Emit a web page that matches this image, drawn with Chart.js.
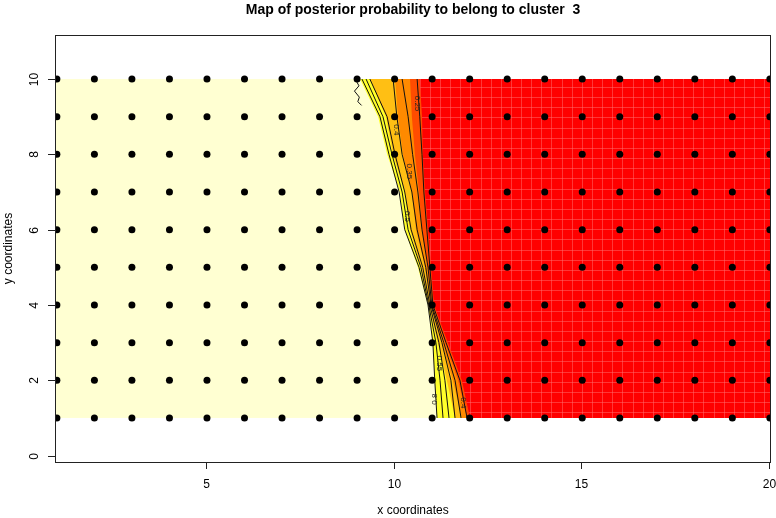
<!DOCTYPE html>
<html>
<head>
<meta charset="utf-8">
<script src="https://cdn.jsdelivr.net/npm/chart.js@4/dist/chart.umd.min.js"></script>
<style>
  body { margin: 0; background: #fff; }
  #wrap { width: 776px; height: 518px; }
</style>
</head>
<body>
<div id="wrap"><canvas id="map" width="776" height="518"></canvas></div>
<script>
// sampling grid (points drawn as dots)
const gridX = [1, 2, 3, 4, 5, 6, 7, 8, 9, 10, 11, 12, 13, 14, 15, 16, 17, 18, 19, 20];
const gridY = [1, 2, 3, 4, 5, 6, 7, 8, 9, 10];

// rows where the colour / contour boundaries were read (top to bottom)
const rowY = [10, 9, 8, 7, 6, 5, 4, 3, 2, 1];

// x position of each colour band edge on every row
const edgePale = [9.08, 9.56, 9.80, 10.14, 10.27, 10.62, 10.89, 11.02, 11.07, 11.13];
const edgeYellow = [9.34, 9.77, 9.96, 10.27, 10.41, 10.70, 10.91, 11.15, 11.39, 11.61];
const edgeOrange = [10.01, 10.09, 10.22, 10.46, 10.57, 10.81, 10.97, 11.26, 11.55, 11.79];
const edgeDark = [10.41, 10.46, 10.54, 10.65, 10.73, 10.89, 11.02, 11.34, 11.69, 11.93];
const edgeRed = [10.67, 10.73, 10.75, 10.81, 10.89, 10.97, 11.05, 11.42, 11.79, 12.01];

// contour lines, x on every row
const contour1 = [9.13, 9.61, 9.85, 10.12, 10.27, 10.65, 10.89, 11.02, 11.07, 11.13];
const contour2 = [9.24, 9.69, 9.93, 10.20, 10.36, 10.70, 10.91, 11.10, 11.21, 11.29];
const contour3 = [9.34, 9.80, 10.01, 10.27, 10.44, 10.75, 10.94, 11.18, 11.34, 11.45];
const contour4 = [9.96, 10.06, 10.20, 10.46, 10.60, 10.83, 10.97, 11.26, 11.50, 11.61];
const contour5 = [10.20, 10.36, 10.48, 10.62, 10.73, 10.89, 10.99, 11.31, 11.61, 11.77];
const contour6 = [10.60, 10.67, 10.73, 10.78, 10.86, 10.94, 11.02, 11.37, 11.74, 11.93];
// small wiggly contour in the top-left corner of the boundary
const wiggleX = [8.95, 9.05, 8.93, 9.06, 9.02, 9.12];
const wiggleY = [10, 9.82, 9.68, 9.52, 9.4, 9.3];

const contourLabels = [
  { text: "0.25", x: 10.60, y: 9.35, rot: 1 },
  { text: "0.4", x: 10.03, y: 8.65, rot: 1 },
  { text: "0.35", x: 10.38, y: 7.55, rot: 1 },
  { text: "0.5", x: 10.33, y: 6.35, rot: 1 },
  { text: "0.55", x: 11.18, y: 2.45, rot: 1 },
  { text: "0.8", x: 11.08, y: 1.5, rot: -1 },
  { text: "0.4", x: 11.82, y: 1.4, rot: 1 }
];

const xTicks = [5, 10, 15, 20];
const yTicks = [0, 2, 4, 6, 8, 10];

const bandColors = ["#ffff2a", "#ffbf14", "#ff8a00", "#ff4c00", "#ff0000"];
const paleColor = "#ffffd2";

const toPts = (xs, ys) => xs.map((x, i) => ({ x: x, y: ys[i] }));

const dots = [];
gridY.forEach(y => gridX.forEach(x => dots.push({ x: x, y: y })));

const contourSet = (pts) => ({
  data: pts,
  showLine: true,
  borderColor: "#111",
  borderWidth: 1,
  pointRadius: 0,
  tension: 0
});

// fills the probability bands behind the datasets
const mapFill = {
  id: "mapFill",
  beforeDatasetsDraw(chart) {
    const { ctx, chartArea: a, scales: { x, y } } = chart;
    const top = y.getPixelForValue(10);
    const bottom = y.getPixelForValue(1);
    ctx.save();
    ctx.fillStyle = paleColor;
    ctx.fillRect(a.left, top, a.right - a.left, bottom - top);

    const edges = [edgePale, edgeYellow, edgeOrange, edgeDark, edgeRed];
    const edgePath = (edge) => {
      ctx.beginPath();
      rowY.forEach((r, i) => {
        const px = x.getPixelForValue(edge[i]);
        const py = y.getPixelForValue(r);
        if (i === 0) ctx.moveTo(px, py); else ctx.lineTo(px, py);
      });
      ctx.lineTo(a.right, bottom);
      ctx.lineTo(a.right, top);
      ctx.closePath();
    };
    edges.forEach((edge, k) => {
      edgePath(edge);
      ctx.fillStyle = bandColors[k];
      ctx.fill();
    });

    // faint raster seams in the red zone
    edgePath(edgeRed);
    ctx.clip();
    ctx.strokeStyle = "rgba(255,110,110,0.5)";
    ctx.lineWidth = 1;
    for (let v = 10.4; v < 20.1; v += 0.27) {
      const px = Math.round(x.getPixelForValue(v)) + 0.5;
      ctx.beginPath(); ctx.moveTo(px, top); ctx.lineTo(px, bottom); ctx.stroke();
    }
    for (let v = 1.15; v < 10; v += 0.27) {
      const py = Math.round(y.getPixelForValue(v)) + 0.5;
      ctx.beginPath(); ctx.moveTo(a.left, py); ctx.lineTo(a.right, py); ctx.stroke();
    }
    ctx.restore();
  },
  afterDatasetsDraw(chart) {
    const { ctx, scales: { x, y } } = chart;
    ctx.save();
    ctx.font = "8px 'Liberation Sans', Arial, sans-serif";
    ctx.textAlign = "center";
    ctx.textBaseline = "middle";
    ctx.fillStyle = "#222";
    contourLabels.forEach(l => {
      ctx.save();
      ctx.translate(x.getPixelForValue(l.x), y.getPixelForValue(l.y));
      ctx.rotate(l.rot * Math.PI / 2);
      ctx.fillText(l.text, 0, 0);
      ctx.restore();
    });
    ctx.restore();
  }
};

// R-style frame, ticks and titles
const rAxes = {
  id: "rAxes",
  afterDraw(chart) {
    const { ctx, chartArea: a, scales: { x, y } } = chart;
    ctx.save();
    ctx.strokeStyle = "#222";
    ctx.lineWidth = 1;
    ctx.strokeRect(a.left + 0.5, a.top + 0.5, a.right - a.left - 1, a.bottom - a.top);

    ctx.fillStyle = "#000";
    ctx.font = "12px 'Liberation Sans', Arial, sans-serif";
    ctx.textAlign = "center";
    ctx.textBaseline = "middle";
    xTicks.forEach(t => {
      const px = Math.round(x.getPixelForValue(t)) - 0.5;
      ctx.beginPath(); ctx.moveTo(px, a.bottom); ctx.lineTo(px, a.bottom + 7); ctx.stroke();
      ctx.fillText(String(t), px, 485);
    });
    yTicks.forEach(t => {
      const py = Math.round(y.getPixelForValue(t)) + 0.5;
      ctx.beginPath(); ctx.moveTo(a.left, py); ctx.lineTo(a.left - 7, py); ctx.stroke();
      ctx.save();
      ctx.translate(35, py);
      ctx.rotate(-Math.PI / 2);
      ctx.fillText(String(t), 0, 0);
      ctx.restore();
    });

    ctx.fillText("x coordinates", (a.left + a.right) / 2, 511);
    ctx.save();
    ctx.translate(9, (a.top + a.bottom) / 2);
    ctx.rotate(-Math.PI / 2);
    ctx.fillText("y coordinates", 0, 0);
    ctx.restore();

    ctx.font = "bold 14px 'Liberation Sans', Arial, sans-serif";
    ctx.fillText("Map of posterior probability to belong to cluster  3", (a.left + a.right) / 2, 10);
    ctx.restore();
  }
};

new Chart(document.getElementById("map"), {
  type: "scatter",
  data: {
    datasets: [
      {
        data: dots,
        pointRadius: 3.5,
        pointBackgroundColor: "#000",
        pointBorderWidth: 0
      },
      contourSet(toPts(contour1, rowY)),
      contourSet(toPts(contour2, rowY)),
      contourSet(toPts(contour3, rowY)),
      contourSet(toPts(contour4, rowY)),
      contourSet(toPts(contour5, rowY)),
      contourSet(toPts(contour6, rowY)),
      contourSet(toPts(wiggleX, wiggleY))
    ]
  },
  options: {
    responsive: false,
    animation: false,
    layout: { padding: { left: 55, right: 5, top: 35, bottom: 56 } },
    plugins: { legend: { display: false }, tooltip: { enabled: false }, title: { display: false } },
    scales: {
      x: { type: "linear", min: 0.95, max: 20.03, display: false },
      y: { type: "linear", min: -0.17, max: 11.17, display: false }
    }
  },
  plugins: [mapFill, rAxes]
});
</script>
</body>
</html>
